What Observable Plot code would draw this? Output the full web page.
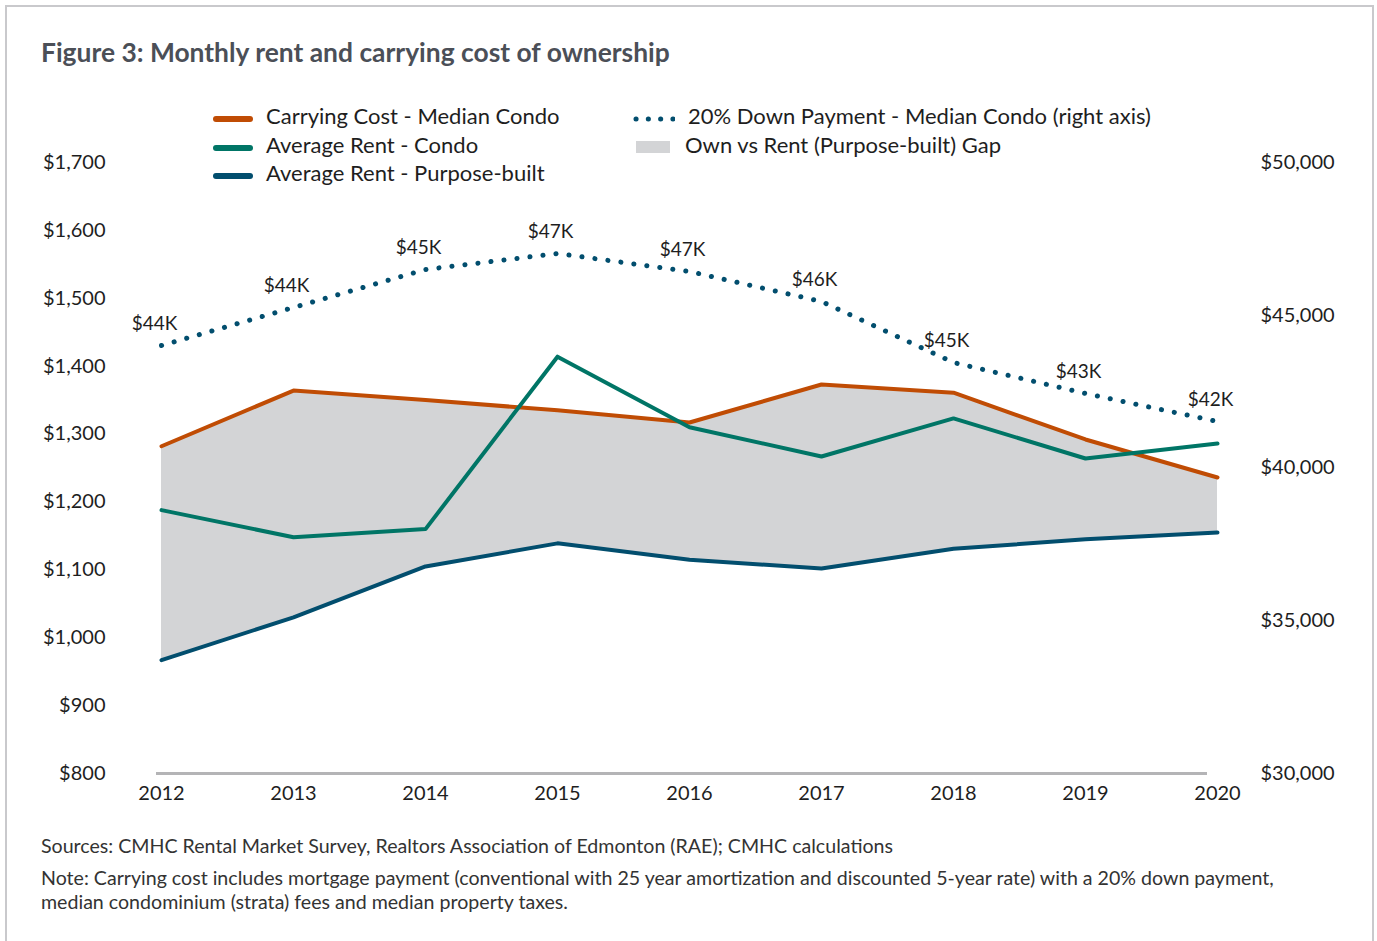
<!DOCTYPE html>
<html>
<head>
<meta charset="utf-8">
<script src="https://cdn.jsdelivr.net/npm/d3@7"></script>
<script src="https://cdn.jsdelivr.net/npm/@observablehq/plot@0.6"></script>
<style>
  html, body { margin: 0; padding: 0; background: #fff; }
  body { width: 1377px; height: 941px; position: relative; font-family: Lato, "Open Sans", sans-serif; color: #222; overflow: hidden; }
  #frame { position: absolute; left: 5px; top: 5px; width: 1369px; height: 940px; border: 2px solid #c9c9cc; box-sizing: border-box; }
  #title { position: absolute; left: 41px; top: 36px; font-size: 26.4px; font-weight: bold; color: #4b4f57; }
  .leg { position: absolute; font-size: 22px; color: #1e1e1e; display: flex; align-items: center; white-space: nowrap; }
  .sw { display: inline-block; margin-right: 13px; }
  #chart { position: absolute; left: 0; top: 140px; }
  .note { position: absolute; left: 41px; font-size: 19.6px; color: #333; line-height: 24px; white-space: nowrap; }
</style>
</head>
<body>
<div id="frame"></div>
<div id="title">Figure 3: Monthly rent and carrying cost of ownership</div>
<div id="legend"></div>
<div id="chart"></div>
<div class="note" style="top:834px">Sources: CMHC Rental Market Survey, Realtors Association of Edmonton (RAE); CMHC calculations</div>
<div class="note" style="top:866px">Note: Carrying cost includes mortgage payment (conventional with 25 year amortization and discounted 5-year rate) with a 20% down payment,<br>median condominium (strata) fees and median property taxes.</div>
<script>
// ---- data ----
const years = [2012, 2013, 2014, 2015, 2016, 2017, 2018, 2019, 2020];
const carryingCost = [1282, 1364, 1350, 1335, 1317, 1373, 1361, 1292, 1236];
const rentCondo = [1188, 1148, 1160, 1414, 1310, 1267, 1323, 1264, 1286];
const rentPurposeBuilt = [967, 1030, 1105, 1139, 1115, 1102, 1131, 1145, 1155];
const downPayment = [44010, 45254, 46497, 47021, 46432, 45450, 43453, 42439, 41522];
const downPaymentLabels = ["$44K", "$44K", "$45K", "$47K", "$47K", "$46K", "$45K", "$43K", "$42K"];
const leftTicks = [800, 900, 1000, 1100, 1200, 1300, 1400, 1500, 1600, 1700];
const rightTicks = [30000, 35000, 40000, 45000, 50000];
const seriesNames = ["Carrying Cost - Median Condo", "Average Rent - Condo", "Average Rent - Purpose-built", "20% Down Payment - Median Condo (right axis)", "Own vs Rent (Purpose-built) Gap"];

const colors = { carry: "#c04c04", condo: "#007566", pb: "#024e6e", dp: "#024e6e", gap: "#d3d4d6" };

// right axis mapping onto the left scale
const L = [800, 1700], R = [30000, 50000];
const toLeft = v => L[0] + (v - R[0]) / (R[1] - R[0]) * (L[1] - L[0]);
const fromLeft = v => R[0] + (v - L[0]) / (L[1] - L[0]) * (R[1] - R[0]);

const data = years.map((year, i) => ({
  year, carry: carryingCost[i], condo: rentCondo[i], pb: rentPurposeBuilt[i],
  dp: toLeft(downPayment[i]), dpLabel: downPaymentLabels[i]
}));

const fmt = d3.format(",");

const chart = Plot.plot({
  width: 1377,
  height: 670,
  marginTop: 22,
  marginBottom: 37,
  marginLeft: 161,
  marginRight: 160,
  style: { fontFamily: "Lato, 'Open Sans', sans-serif", fontSize: "20px", color: "#1e1e1e", background: "transparent" },
  x: { domain: [2012, 2020], label: null },
  y: { domain: L, label: null },
  marks: [
    Plot.areaY(data, { x: "year", y1: "pb", y2: "carry", fill: colors.gap }),
    Plot.ruleY([800], { stroke: "#b4b4b6", strokeWidth: 3, insetLeft: -5, insetRight: 10 }),
    Plot.line(data, { x: "year", y: "dp", stroke: colors.dp, strokeWidth: 5, strokeDasharray: "0.1 13", strokeLinecap: "round" }),
    Plot.line(data, { x: "year", y: "pb", stroke: colors.pb, strokeWidth: 4 }),
    Plot.line(data, { x: "year", y: "carry", stroke: colors.carry, strokeWidth: 4 }),
    Plot.line(data, { x: "year", y: "condo", stroke: colors.condo, strokeWidth: 4 }),
    Plot.text(data, { x: "year", y: "dp", text: "dpLabel", dy: -22, dx: -7, fontSize: 19, fill: "#1e1e1e" }),
    Plot.axisY({ anchor: "left", ticks: leftTicks, tickSize: 0, tickPadding: 56, tickFormat: d => "$" + fmt(d), fontSize: 20, label: null }),
    Plot.axisY({ anchor: "right", ticks: rightTicks.map(toLeft), tickSize: 0, tickPadding: 43, tickFormat: d => "$" + fmt(Math.round(fromLeft(d))), fontSize: 20, label: null }),
    Plot.axisX({ anchor: "bottom", ticks: years, tickSize: 0, tickPadding: 12, tickFormat: d => String(d), fontSize: 20, label: null })
  ]
});
document.getElementById("chart").appendChild(chart);

// legend (HTML)
const legend = document.getElementById("legend");
const items = [
  { name: seriesNames[0], left: 213, top: 102, sw: `<svg width="40" height="10"><line x1="3" y1="5" x2="37" y2="5" stroke="${colors.carry}" stroke-width="6" stroke-linecap="round"/></svg>` },
  { name: seriesNames[1], left: 213, top: 131, sw: `<svg width="40" height="10"><line x1="3" y1="5" x2="37" y2="5" stroke="${colors.condo}" stroke-width="6" stroke-linecap="round"/></svg>` },
  { name: seriesNames[2], left: 213, top: 159, sw: `<svg width="40" height="10"><line x1="3" y1="5" x2="37" y2="5" stroke="${colors.pb}" stroke-width="6" stroke-linecap="round"/></svg>` },
  { name: seriesNames[3], left: 633, top: 102, sw: `<svg width="42" height="10"><line x1="3" y1="5" x2="40" y2="5" stroke="${colors.dp}" stroke-width="5" stroke-dasharray="0.1 12.2" stroke-linecap="round"/></svg>` },
  { name: seriesNames[4], left: 636, top: 131, sw: `<svg width="36" height="12"><rect x="0" y="0" width="34" height="12" fill="${colors.gap}"/></svg>` }
];
items.forEach(it => {
  const d = document.createElement("div");
  d.className = "leg";
  d.style.left = it.left + "px";
  d.style.top = it.top + "px";
  d.innerHTML = `<span class="sw">${it.sw}</span><span>${it.name}</span>`;
  legend.appendChild(d);
});
</script>
</body>
</html>
